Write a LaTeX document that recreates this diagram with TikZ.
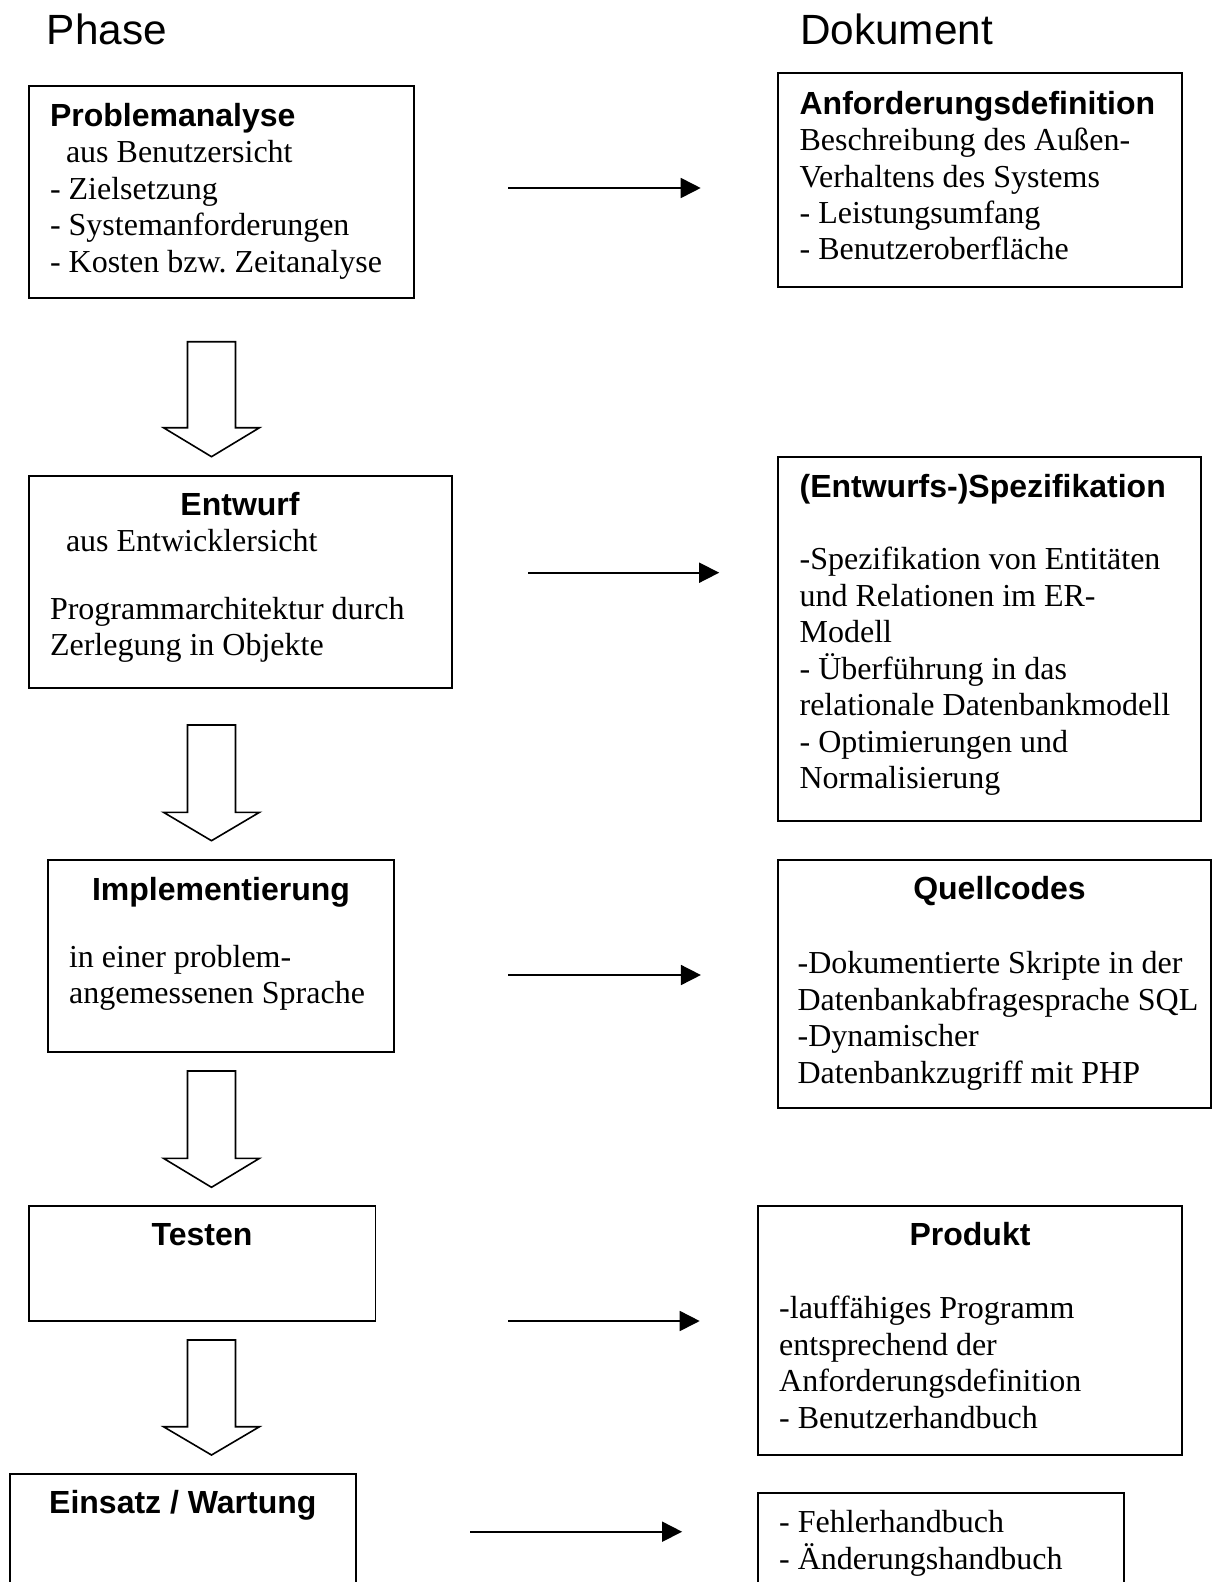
\documentclass[tikz,border=0pt]{standalone}
\usepackage{fontspec}
\setmainfont{Liberation Serif}
\newfontfamily\hsans{Liberation Sans}
\usetikzlibrary{arrows.meta}
\frenchspacing
\tikzset{
 box/.style={draw, line width=1.8pt, inner sep=0pt, outer sep=0pt, anchor=north west},
 body/.style={anchor=base west, inner sep=0pt, font=\fontsize{32}{36.7}\selectfont},
 head/.style={anchor=base west, inner sep=0pt, font=\hsans\bfseries\fontsize{32}{36.7}\selectfont},
 headc/.style={head, anchor=base},
 coltitle/.style={anchor=base west, inner sep=0pt, font=\hsans\fontsize{42.3}{48}\selectfont},
 flow/.style={line width=1.7pt, -{Triangle[length=20pt,width=20pt]}},
 hollow/.style={draw, line width=1.6pt, fill=white, line join=miter},
}
\newcommand\hollowarrow[4]{%
 \draw[hollow] (#1-24,#2) -- (#1+24,#2) -- (#1+24,#3) -- (#1+48,#3) -- (#1,#4) -- (#1-48,#3) -- (#1-24,#3) -- cycle;}
\begin{document}
\frenchspacing
\begin{tikzpicture}[x=1pt,y=-1pt]
\path[use as bounding box] (0,0) rectangle (1213,1582);
\clip (0,0) rectangle (1213,1582);

% column titles
\node[coltitle] (phase) at (46.7,44) {Phase};
\node[coltitle] (dok) at (800,44) {Dokument};

% left boxes
\node[box, minimum width=385pt, minimum height=211.7pt] (b1) at (28.7,86) {};
\node[box, minimum width=423.3pt, minimum height=212pt] (b2) at (28.7,475.7) {};
\node[box, minimum width=346.4pt, minimum height=192.3pt] (b3) at (47.8,860) {};
\node[box, minimum width=346.7pt, minimum height=115.3pt] (b4) at (28.7,1205.7) {};
\node[box, minimum width=346.4pt, minimum height=140pt] (b5) at (9.6,1474.3) {};

% right boxes
\node[box, minimum width=403.8pt, minimum height=213.4pt] (r1) at (777.9,73.3) {};
\node[box, minimum width=423.4pt, minimum height=364.3pt] (r2) at (777.9,456.7) {};
\node[box, minimum width=433.1pt, minimum height=248.3pt] (r3) at (777.9,860) {};
\node[box, minimum width=423.4pt, minimum height=249.3pt] (r4) at (758.3,1205.7) {};
\node[box, minimum width=365.6pt, minimum height=120pt] (r5) at (758.3,1493.3) {};

% texts box 1
\node[head] (b1t) at (49.8,126.5) {Problemanalyse};
\node[body] (b1a) at (65.8,162.5) {aus Benutzersicht};
\node[body] (b1b) at (49.8,199) {- Zielsetzung};
\node[body] (b1c) at (49.8,235.5) {- Systemanforderungen};
\node[body] (b1d) at (49.8,272) {- Kosten bzw.\ Zeitanalyse};

% texts r1
\node[head] (r1t) at (799.4,114.3) {Anforderungsdefinition};
\node[body] (r1a) at (799.4,150.5) {Beschreibung des Außen-};
\node[body] (r1b) at (799.4,187) {Verhaltens des Systems};
\node[body] (r1c) at (799.4,223) {- Leistungsumfang};
\node[body] (r1d) at (799.4,259.5) {- Benutzeroberfläche};

% texts b2
\node[headc] (b2t) at (240,515) {Entwurf};
\node[body] (b2a) at (65.8,551) {aus Entwicklersicht};
\node[body] (b2b) at (49.8,619) {Programmarchitektur durch};
\node[body] (b2c) at (49.8,655.5) {Zerlegung in Objekte};

% texts r2
\node[head] (r2t) at (799.4,497) {(Entwurfs-)Spezifikation};
\node[body] (r2a) at (799.4,569.3) {-Spezifikation von Entitäten};
\node[body] (r2b) at (799.4,606) {und Relationen im ER-};
\node[body] (r2c) at (799.4,642.5) {Modell};
\node[body] (r2d) at (799.4,679) {- Überführung in das};
\node[body] (r2e) at (799.4,715.5) {relationale Datenbankmodell};
\node[body] (r2f) at (799.4,752) {- Optimierungen und};
\node[body] (r2g) at (799.4,788.5) {Normalisierung};

% texts b3
\node[headc] (b3t) at (221,900) {Implementierung};
\node[body] (b3a) at (68.9,967) {in einer problem-};
\node[body] (b3b) at (68.9,1003.5) {angemessenen Sprache};

% texts r3
\node[headc] (r3t) at (999.5,899.3) {Quellcodes};
\node[body] (r3a) at (797.4,973.3) {-Dokumentierte Skripte in der};
\node[body] (r3b) at (797.4,1010) {Datenbankabfragesprache SQL};
\node[body] (r3c) at (797.4,1046.5) {-Dynamischer};
\node[body] (r3d) at (797.4,1083) {Datenbankzugriff mit PHP};

% texts b4, r4
\node[headc] (b4t) at (202,1245.5) {Testen};
\node[headc] (r4t) at (970,1245) {Produkt};
\node[body] (r4a) at (779,1318.3) {-lauffähiges Programm};
\node[body] (r4b) at (779,1355) {entsprechend der};
\node[body] (r4c) at (779,1391.7) {Anforderungsdefinition};
\node[body] (r4d) at (779,1428.3) {- Benutzerhandbuch};

% texts b5, r5
\node[headc] (b5t) at (182.8,1513.3) {Einsatz / Wartung};
\node[body] (r5a) at (779,1532.7) {- Fehlerhandbuch};
\node[body] (r5b) at (779,1569.3) {- Änderungshandbuch};

% horizontal arrows
\coordinate (a1s) at (508,188);    \coordinate (a1e) at (700.7,188);
\coordinate (a2s) at (528,572.7);  \coordinate (a2e) at (719.2,572.7);
\coordinate (a3s) at (508,975);    \coordinate (a3e) at (700.9,975);
\coordinate (a4s) at (508,1321);   \coordinate (a4e) at (699.7,1321);
\coordinate (a5s) at (470,1531.7); \coordinate (a5e) at (682.1,1531.7);
\draw[flow] (a1s) -- (a1e);
\draw[flow] (a2s) -- (a2e);
\draw[flow] (a3s) -- (a3e);
\draw[flow] (a4s) -- (a4e);
\draw[flow] (a5s) -- (a5e);

% hollow block arrows
\hollowarrow{211.5}{341.7}{427.7}{456.7}
\hollowarrow{211.5}{725}{812.3}{840.7}
\hollowarrow{211.5}{1071}{1158.3}{1187.3}
\hollowarrow{211.5}{1340}{1426.7}{1455}
\end{tikzpicture}
\end{document}
